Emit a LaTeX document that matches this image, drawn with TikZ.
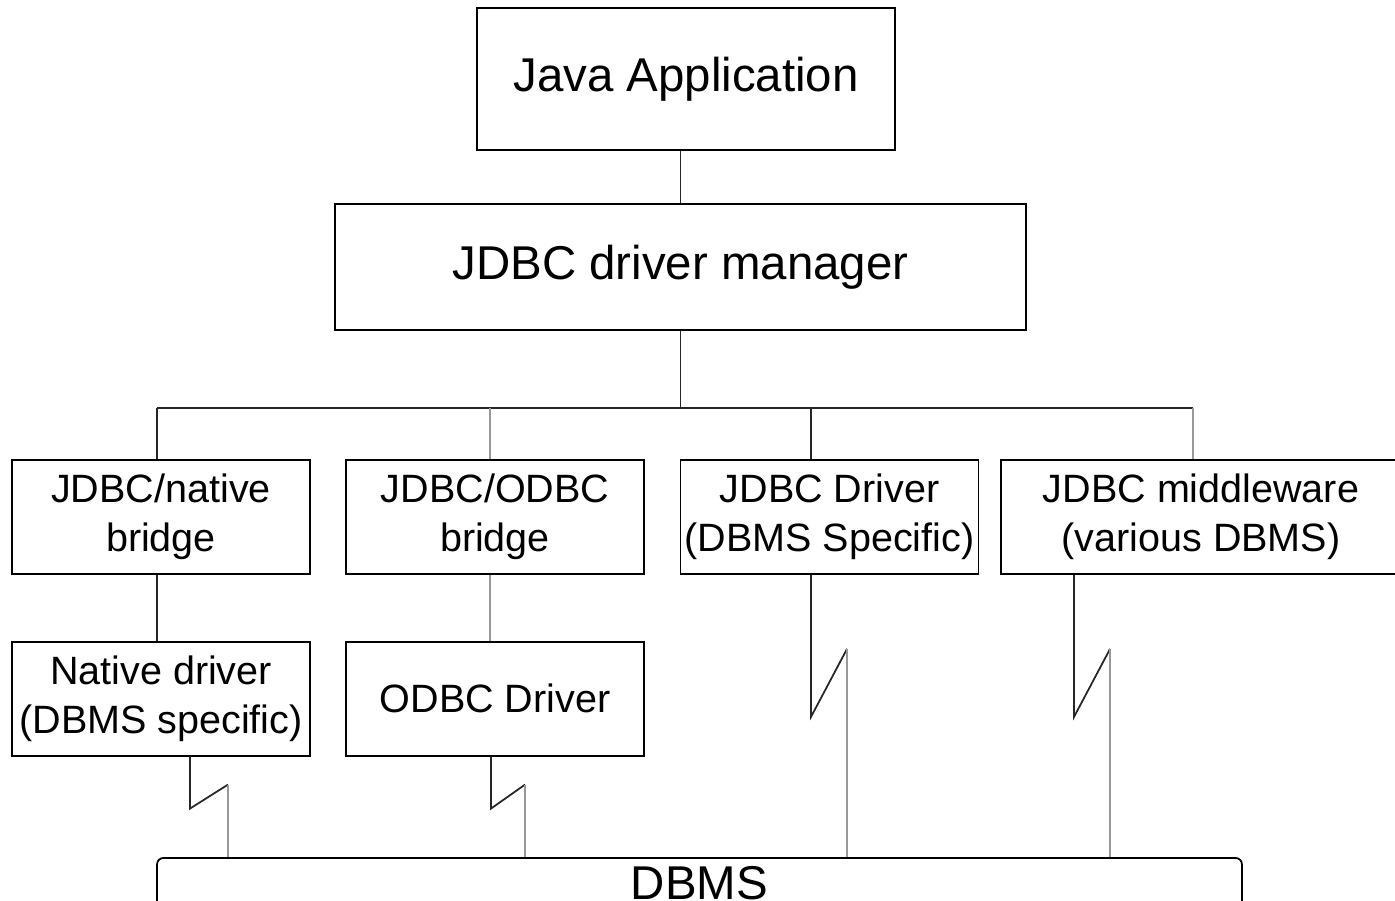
\documentclass[tikz,border=0pt]{standalone}
\usepackage{fontspec}
\setmainfont{Liberation Sans}
\usetikzlibrary{positioning}
\definecolor{wire}{gray}{0.6}
\newcommand{\bigfont}{\fontsize{27}{33}\selectfont}
\newcommand{\rowfont}{\fontsize{22.5}{28}\selectfont}

\begin{document}
\begin{tikzpicture}[x=0.02cm,y=-0.02cm]
        \tikzstyle{layer}=[rectangle,draw=black,line width=1pt,inner sep=0pt,align=center,font=\rowfont,minimum width=5.96cm,minimum height=2.28cm]
        \tikzstyle{link}=[line width=1pt,draw=black!85]
        \tikzstyle{faint}=[line width=1pt,draw=wire]
        \useasboundingbox (0,0) rectangle (1395,900);
        \clip (0,0) rectangle (1395,900);
        \node[layer,font=\bigfont,minimum width=8.36cm,minimum height=2.84cm] (app) at (686,79) {Java Application};
        \node[layer,font=\bigfont,minimum width=13.82cm,minimum height=2.52cm] (manager) at (680.5,267) {JDBC driver manager};
        \node[layer] (native) at (161,517) {JDBC/native\\bridge};
        \node[layer] (odbc) at (495,517) {JDBC/ODBC\\bridge};
        \node[layer] (driver) at (829.5,517) {JDBC Driver\\(DBMS Specific)};
        \node[layer,minimum width=8cm] (middle) at (1201,517) {JDBC middleware\\(various DBMS)};
        \node[layer] (natdrv) [below=1.32cm of native] {Native driver\\(DBMS specific)};
        \node[layer] (odbcdrv) [below=1.32cm of odbc] {ODBC Driver};
        \node[layer,font=\bigfont,rounded corners=3.5pt,minimum width=21.7cm,minimum height=1cm] (dbms) at (699.5,883) {DBMS};
        \coordinate (b1) at (157,408);
        \coordinate (b2) at (490,408);
        \coordinate (b3) at (811,408);
        \coordinate (b4) at (1193,408);
        \draw[link] (manager.north |- app.south) -- (manager.north);
        \draw[link] (manager.south) -- (manager.south |- b1);
        \draw[link] (b1) -- (b4);
        \draw[link] (b1) -- (b1 |- native.north);
        \draw[faint] (b2) -- (b2 |- odbc.north);
        \draw[link] (b3) -- (b3 |- driver.north);
        \draw[faint] (b4) -- (b4 |- middle.north);
        \draw[link] (native.south -| b1) -- (natdrv.north -| b1);
        \draw[faint] (odbc.south -| b2) -- (odbcdrv.north -| b2);
        \draw[link] ([xshift=0.58cm]natdrv.south) -- ++(0,52) -- ++(38,-24) coordinate (k1);
        \draw[faint] (k1) -- (k1 |- dbms.north);
        \draw[link] ([xshift=-0.08cm]odbcdrv.south) -- ++(0,52) -- ++(34,-24) coordinate (k2);
        \draw[faint] (k2) -- (k2 |- dbms.north);
        \draw[link] (driver.south -| b3) -- ++(0,142) -- ++(36,-68) coordinate (k3);
        \draw[faint] (k3) -- (k3 |- dbms.north);
        \draw[link] ([xshift=-2.54cm]middle.south) -- ++(0,142) -- ++(36,-68) coordinate (k4);
        \draw[faint] (k4) -- (k4 |- dbms.north);
    \end{tikzpicture}
\end{document}
